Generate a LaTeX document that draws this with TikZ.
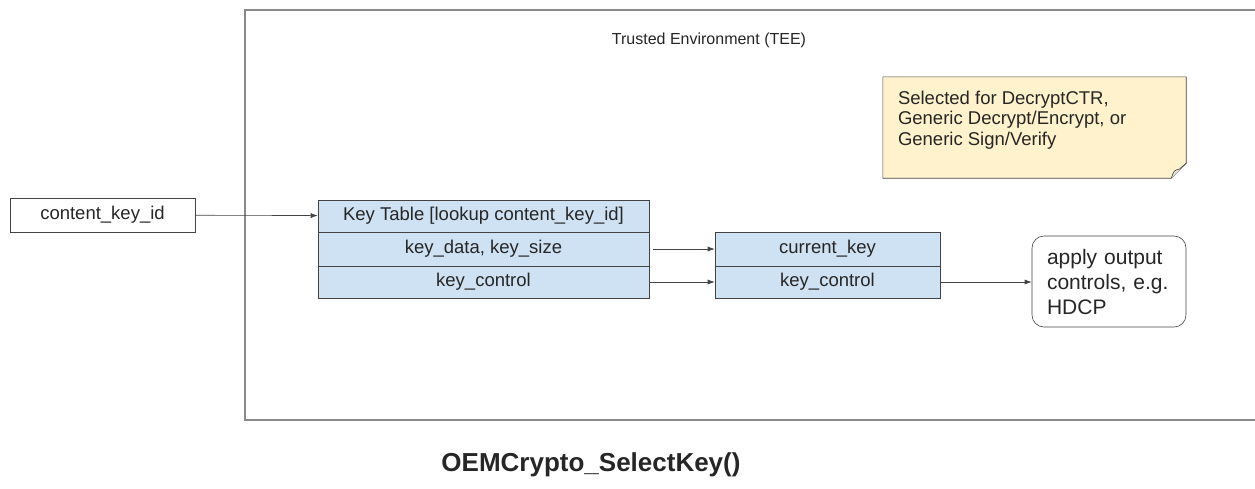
\documentclass[tikz,border=0pt]{standalone}
\usepackage{fontspec}
\setmainfont{Liberation Sans}
\usetikzlibrary{arrows.meta}
\definecolor{tablefill}{HTML}{CFE2F3}
\definecolor{notefill}{HTML}{FFF2CC}
\definecolor{linegray}{HTML}{434343}
\definecolor{envgray}{HTML}{8A8A8A}
\tikzstyle{field}=[draw=linegray, fill=tablefill, semithick, minimum height=33pt, inner sep=0, font=\fontsize{18.5}{20}\selectfont]
\tikzstyle{input}=[draw=linegray, semithick, minimum width=185pt, minimum height=34pt, inner sep=0, font=\fontsize{18.5}{20}\selectfont]
\tikzstyle{output}=[draw=linegray, semithick, rounded corners=12pt, minimum width=154pt, minimum height=91pt, align=left, text width=124pt, font=\fontsize{21}{25}\selectfont]
\tikzstyle{flow}=[-{Latex[length=7pt,width=5pt]}, semithick, linegray]

\begin{document}
\begin{tikzpicture}[x=1pt, y=-1pt, text=black!85]
      \clip (0, 0) rectangle (1255, 488);

      % trusted environment
      \draw[envgray, line width=1.3pt] (1265, 10) -- (245, 10) -- (245, 420) -- (1265, 420);
      \node[font=\fontsize{16}{18}\selectfont] (tee) at (709, 40) {Trusted Environment (TEE)};

      % note
      \node[minimum width=303pt, minimum height=101pt, inner sep=0] (note) at (1034.5, 127.5) {};
      \draw[linegray, semithick, fill=notefill] (note.north west) -- (note.north east)
        -- ([yshift=15pt]note.south east) -- ([xshift=-15pt]note.south east)
        -- (note.south west) -- cycle;
      \draw[linegray, semithick, fill=notefill!70!black!30] ([xshift=-15pt]note.south east)
        .. controls ([xshift=-12pt, yshift=8pt]note.south east) .. ([xshift=-7pt, yshift=9pt]note.south east)
        -- ([yshift=15pt]note.south east);
      \node[anchor=north west, align=left, inner sep=0, font=\fontsize{18.5}{20.5}\selectfont] (note_text)
        at ([xshift=15pt, yshift=-14pt]note.north west)
        {Selected for DecryptCTR,\\Generic Decrypt/Encrypt, or\\Generic Sign/Verify};

      % key id
      \node[input] (key_id) at (102.5, 215) {content\_key\_id};

      % key table
      \node[field, minimum width=331pt, minimum height=32pt] (table_head) at (483.5, 216) {Key Table [lookup content\_key\_id]};
      \node[field, minimum width=331pt, minimum height=34pt] (table_data) at (483.5, 249) {key\_data, key\_size};
      \node[field, minimum width=331pt, minimum height=32pt] (table_control) at (483.5, 282) {key\_control};

      % current key
      \node[field, minimum width=225pt, minimum height=34pt] (current_key) at (827.5, 249) {current\_key};
      \node[field, minimum width=225pt, minimum height=32pt] (current_control) at (827.5, 282) {key\_control};

      % output controls
      \node[output] (apply) at (1109, 281.5) {apply output\\controls, e.g.\\HDCP};

      \draw[flow] (key_id) -- (table_head);
      \draw[flow] ([xshift=4pt]table_data.east) -- (current_key);
      \draw[flow] (table_control) -- (current_control);
      \draw[flow] (current_control) -- (apply.west |- current_control);

      \node[font=\bfseries\fontsize{26}{28}\selectfont] (title) at (591, 465) {OEMCrypto\_SelectKey()};
    \end{tikzpicture}
\end{document}
